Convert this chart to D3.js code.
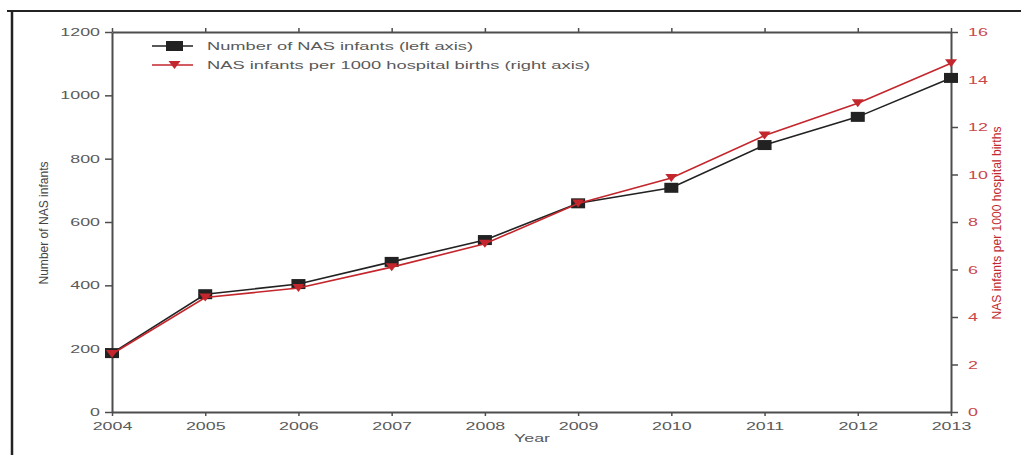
<!DOCTYPE html>
<html>
<head>
<meta charset="utf-8">
<script src="https://cdn.jsdelivr.net/npm/d3@7"></script>
<style>
  html, body { margin: 0; padding: 0; background: #fff; }
  svg { display: block; }
  text { font-family: "Liberation Sans", Arial, sans-serif; }
</style>
</head>
<body>
<svg id="chart" width="1021" height="455"></svg>
<script>
// NAS infants in the state, 2004-2013
const years = [2004, 2005, 2006, 2007, 2008, 2009, 2010, 2011, 2012, 2013];
const nasCount = [186, 372, 404, 474, 543, 659, 708, 843, 932, 1055];
const nasRate = [2.44, 4.82, 5.22, 6.10, 7.08, 8.78, 9.85, 11.64, 13.00, 14.68];
const leftTicks = [0, 200, 400, 600, 800, 1000, 1200];
const rightTicks = [0, 2, 4, 6, 8, 10, 12, 14, 16];
const legendLabels = [
  "Number of NAS infants (left axis)",
  "NAS infants per 1000 hospital births (right axis)"
];

const svg = d3.select("#chart");
const margin = { left: 112, right: 70, top: 32, bottom: 43 };
const W = 1021, H = 455;
const x0 = margin.left, x1 = W - margin.right; // 112 .. 951
const y0 = H - margin.bottom, y1 = margin.top;  // 412 .. 32

const axisColor = "#4d4d4d";
const textColor = "#5a5a5a";
const red = "#c3262c";
const redText = "#c9474b";
const stretch = 1.62; // wide horizontal lettering

const x = d3.scaleLinear().domain([2004, 2013]).range([x0, x1]);
const yL = d3.scaleLinear().domain([0, 1200]).range([y0, y1]);
const yR = d3.scaleLinear().domain([0, 16]).range([y0, y1]);

// outer frame
svg.append("line").attr("x1", 7).attr("x2", W).attr("y1", 11).attr("y2", 11)
  .attr("stroke", "#222").attr("stroke-width", 2);
svg.append("line").attr("x1", 12).attr("x2", 12).attr("y1", 10).attr("y2", H)
  .attr("stroke", "#222").attr("stroke-width", 2.5);

function widen(sel) {
  sel.each(function () {
    const len = this.getComputedTextLength();
    d3.select(this).attr("textLength", len * stretch).attr("lengthAdjust", "spacingAndGlyphs");
  });
}

function styleAxis(g, color) {
  g.select(".domain").attr("stroke", axisColor).attr("stroke-width", 2);
  g.selectAll(".tick line").attr("stroke", axisColor).attr("stroke-width", 1.5);
  g.selectAll(".tick text").attr("fill", color).style("font-size", "11px")
    .style("font-family", "'Liberation Sans', Arial, sans-serif");
}

// bottom axis
const gx = svg.append("g").attr("transform", `translate(0,${y0})`)
  .call(d3.axisBottom(x).tickValues(years).tickFormat(d3.format("d")).tickSize(4).tickPadding(6).tickSizeOuter(0));
styleAxis(gx, textColor);
widen(gx.selectAll(".tick text"));

// top axis (ticks only)
const gt = svg.append("g").attr("transform", `translate(0,${y1})`)
  .call(d3.axisTop(x).tickValues(years).tickFormat("").tickSize(4).tickSizeOuter(0));
styleAxis(gt, textColor);

// left axis
const gl = svg.append("g").attr("transform", `translate(${x0},0)`)
  .call(d3.axisLeft(yL).tickValues(leftTicks).tickFormat(d3.format("d")).tickSize(7).tickPadding(5).tickSizeOuter(0));
styleAxis(gl, textColor);
widen(gl.selectAll(".tick text"));

// right axis
const gr = svg.append("g").attr("transform", `translate(${x1},0)`)
  .call(d3.axisRight(yR).tickValues(rightTicks).tickFormat(d3.format("d")).tickSize(7).tickPadding(10).tickSizeOuter(0));
styleAxis(gr, redText);
widen(gr.selectAll(".tick text"));

// axis titles
svg.append("text").attr("x", 532).attr("y", 442)
  .attr("text-anchor", "middle").attr("fill", textColor).style("font-size", "11px")
  .text("Year").call(widen);

svg.append("text").attr("transform", "translate(48,223) rotate(-90)")
  .attr("text-anchor", "middle").attr("fill", "#444").style("font-size", "13px")
  .attr("textLength", 123).attr("lengthAdjust", "spacingAndGlyphs")
  .text("Number of NAS infants");

svg.append("text").attr("transform", "translate(1001,223) rotate(-90)")
  .attr("text-anchor", "middle").attr("fill", red).style("font-size", "13px")
  .attr("textLength", 193).attr("lengthAdjust", "spacingAndGlyphs")
  .text("NAS infants per 1000 hospital births");

// series: count on the left axis
const lineL = d3.line().x((d, i) => x(years[i])).y(d => yL(d));
const lineR = d3.line().x((d, i) => x(years[i])).y(d => yR(d));

svg.append("path").datum(nasCount).attr("d", lineL)
  .attr("fill", "none").attr("stroke", "#222").attr("stroke-width", 1.6);
svg.append("g").selectAll("rect").data(nasCount).join("rect")
  .attr("x", (d, i) => x(years[i]) - 7).attr("y", d => yL(d) - 5)
  .attr("width", 14).attr("height", 10).attr("fill", "#222");

// series: rate on the right axis
const tri = (cx, cy) => `M${cx - 6},${cy - 4}L${cx + 6},${cy - 4}L${cx},${cy + 4}Z`;
svg.append("path").datum(nasRate).attr("d", lineR)
  .attr("fill", "none").attr("stroke", red).attr("stroke-width", 1.6);
svg.append("g").selectAll("path").data(nasRate).join("path")
  .attr("d", (d, i) => tri(x(years[i]), yR(d))).attr("fill", red);

// legend
const legendWidths = [266, 383];
const leg = svg.append("g");
[0, 1].forEach(k => {
  const ly = 46 + k * 19;
  leg.append("line").attr("x1", 152).attr("x2", 193).attr("y1", ly).attr("y2", ly)
    .attr("stroke", k === 0 ? "#222" : red).attr("stroke-width", 1.6);
  if (k === 0) {
    leg.append("rect").attr("x", 166).attr("y", ly - 5).attr("width", 17).attr("height", 10).attr("fill", "#222");
  } else {
    leg.append("path").attr("d", tri(174.5, ly)).attr("fill", red);
  }
  leg.append("text").attr("x", 207).attr("y", ly + 4).attr("fill", textColor)
    .style("font-size", "11px")
    .attr("textLength", legendWidths[k]).attr("lengthAdjust", "spacingAndGlyphs")
    .text(legendLabels[k]);
});
</script>
</body>
</html>
